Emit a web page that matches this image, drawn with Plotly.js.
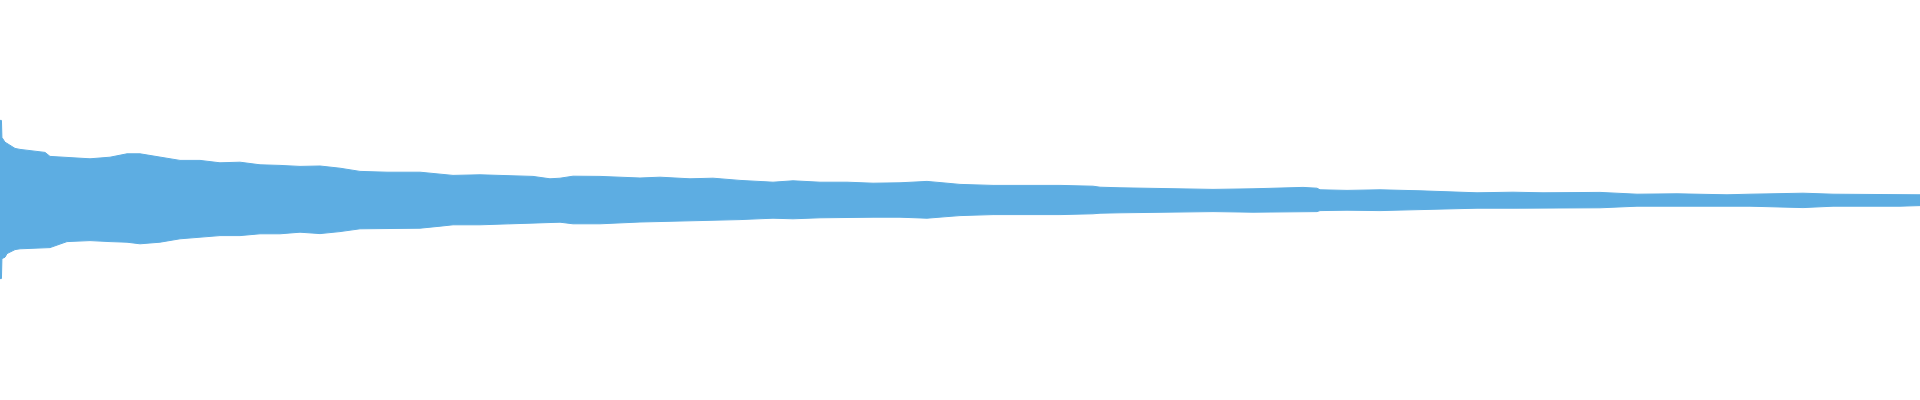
<!DOCTYPE html>
<html>
<head>
<meta charset="utf-8">
<script src="https://cdn.plot.ly/plotly-3.0.1.min.js"></script>
<style>html,body{margin:0;padding:0;background:#fff;}#chart{width:1920px;height:400px;}</style>
</head>
<body>
<div id="chart"></div>
<script>
// Time (s) of envelope readings
const timeSec = [0, 0.003, 0.004, 0.0104, 0.0146, 0.0208, 0.0313, 0.0417, 0.0625, 0.0938, 0.1042, 0.1396, 0.1875, 0.2292, 0.2646, 0.2917, 0.3333, 0.375, 0.4167, 0.4583, 0.5, 0.5417, 0.5833, 0.625, 0.6667, 0.7083, 0.75, 0.8063, 0.875, 0.9167, 0.9438, 1.0, 1.0563, 1.1104, 1.1458, 1.1667, 1.1938, 1.25, 1.3333, 1.375, 1.4375, 1.4854, 1.5417, 1.6104, 1.6521, 1.7083, 1.7646, 1.8188, 1.875, 1.9313, 1.9729, 2.0, 2.0688, 2.1396, 2.1813, 2.2083, 2.2771, 2.2917, 2.3333, 2.3896, 2.4438, 2.5271, 2.6104, 2.6667, 2.7146, 2.7438, 2.75, 2.8063, 2.875, 2.9583, 3.0479, 3.0771, 3.1521, 3.2146, 3.3333, 3.4104, 3.4938, 3.5979, 3.6458, 3.7563, 3.8188, 3.9583, 4.0];
// Upper (max) amplitude envelope
const maxAmp = [0.398, 0.398, 0.313, 0.289, 0.283, 0.273, 0.258, 0.253, 0.248, 0.238, 0.218, 0.214, 0.206, 0.214, 0.231, 0.231, 0.214, 0.198, 0.198, 0.186, 0.189, 0.176, 0.173, 0.168, 0.170, 0.159, 0.143, 0.139, 0.139, 0.131, 0.123, 0.126, 0.123, 0.118, 0.106, 0.109, 0.119, 0.118, 0.110, 0.114, 0.106, 0.109, 0.098, 0.089, 0.096, 0.089, 0.089, 0.084, 0.086, 0.093, 0.084, 0.078, 0.073, 0.073, 0.076, 0.073, 0.069, 0.064, 0.061, 0.059, 0.056, 0.053, 0.056, 0.059, 0.063, 0.059, 0.051, 0.048, 0.051, 0.046, 0.039, 0.036, 0.039, 0.036, 0.038, 0.029, 0.031, 0.026, 0.029, 0.034, 0.029, 0.029, 0.026];
// Lower (min) amplitude envelope
const minAmp = [-0.393, -0.393, -0.293, -0.286, -0.268, -0.261, -0.248, -0.244, -0.243, -0.238, -0.238, -0.208, -0.203, -0.208, -0.211, -0.219, -0.211, -0.194, -0.186, -0.178, -0.178, -0.169, -0.169, -0.161, -0.168, -0.158, -0.144, -0.141, -0.141, -0.131, -0.124, -0.124, -0.119, -0.116, -0.111, -0.111, -0.119, -0.119, -0.110, -0.108, -0.103, -0.103, -0.098, -0.091, -0.094, -0.089, -0.086, -0.086, -0.086, -0.091, -0.083, -0.078, -0.073, -0.073, -0.074, -0.073, -0.069, -0.066, -0.064, -0.063, -0.061, -0.058, -0.061, -0.059, -0.061, -0.058, -0.053, -0.051, -0.053, -0.048, -0.044, -0.041, -0.041, -0.041, -0.039, -0.031, -0.031, -0.028, -0.031, -0.038, -0.031, -0.031, -0.028];

const waveColor = '#5dade2';
const traces = [
  {x: timeSec, y: minAmp, type: 'scatter', mode: 'lines', line: {color: waveColor, width: 1}, hoverinfo: 'skip'},
  {x: timeSec, y: maxAmp, type: 'scatter', mode: 'lines', line: {color: waveColor, width: 1}, fill: 'tonexty', fillcolor: waveColor, hoverinfo: 'skip'}
];
const layout = {
  width: 1920, height: 400,
  margin: {l: 0, r: 0, t: 0, b: 0, pad: 0},
  paper_bgcolor: '#ffffff', plot_bgcolor: '#ffffff',
  showlegend: false,
  xaxis: {range: [0, 4], visible: false, fixedrange: true},
  yaxis: {range: [-1, 1], visible: false, fixedrange: true}
};
Plotly.newPlot('chart', traces, layout, {displayModeBar: false, staticPlot: true});
</script>
</body>
</html>
